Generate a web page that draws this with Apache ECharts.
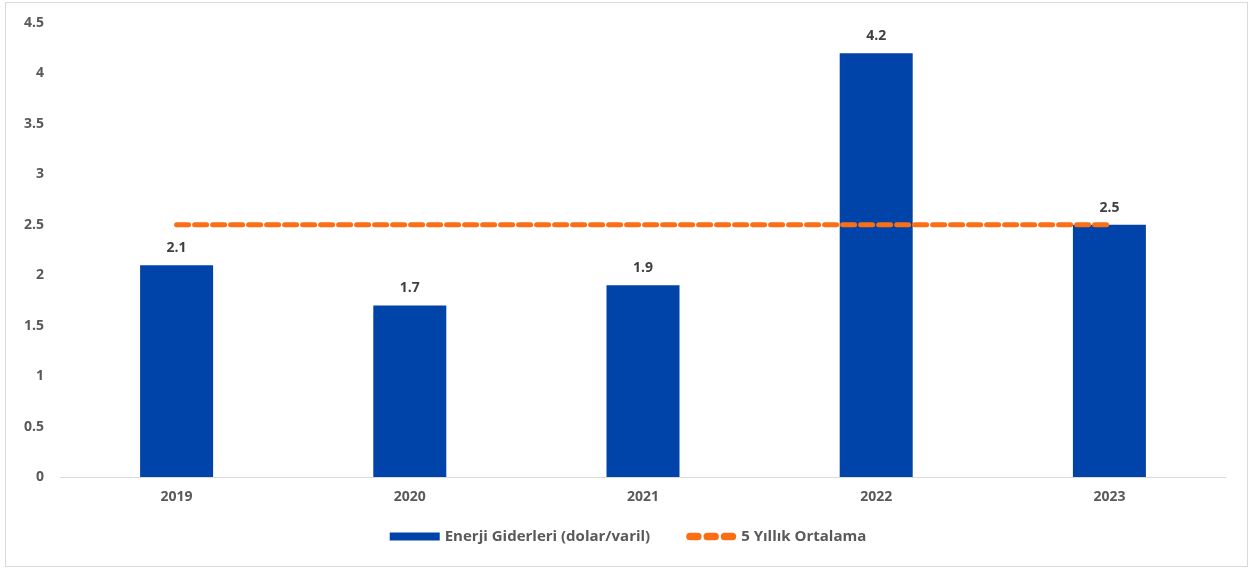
<!DOCTYPE html>
<html><head><meta charset="utf-8">
<script src="https://cdn.jsdelivr.net/npm/echarts@6/dist/echarts.min.js"></script>
<style>html,body{margin:0;padding:0;background:#fff}#c{width:1256px;height:570px}
#frame{position:absolute;left:5px;top:2px;width:1243px;height:565px;border:1px solid #d9d9d9;box-sizing:border-box;pointer-events:none}</style>
</head><body><div id="c"></div><div id="frame"></div>
<script>
const categories = ['2019','2020','2021','2022','2023'];
const energyCosts = [2.1, 1.7, 1.9, 4.2, 2.5];
const fiveYearAvg = [2.5, 2.5, 2.5, 2.5, 2.5];
const barName = 'Enerji Giderleri (dolar/varil)';
const lineName = '5 Yıllık Ortalama';
const font = "'Open Sans', 'Liberation Sans', sans-serif";
const chart = echarts.init(document.getElementById('c'));
chart.setOption({
  animation: false,
  grid: { left: 60, right: 30, top: 23, bottom: 93 },
  legend: {
    bottom: 21, left: 'center', itemGap: 36, itemWidth: 50, itemHeight: 8,
    textStyle: { color: '#595959', fontWeight: 'bold', fontSize: 15, fontFamily: font },
    data: [
      { name: barName, icon: 'rect' },
      { name: lineName, icon: 'path://M4,0 L12,0 A4,4 0 0 1 12,8 L4,8 A4,4 0 0 1 4,0 Z M22,0 L30,0 A4,4 0 0 1 30,8 L22,8 A4,4 0 0 1 22,0 Z M40,0 L48,0 A4,4 0 0 1 48,8 L40,8 A4,4 0 0 1 40,0 Z' }
    ]
  },
  xAxis: {
    type: 'category', data: categories, boundaryGap: true,
    axisLine: { lineStyle: { color: '#d9d9d9', width: 1 } },
    axisTick: { show: false },
    axisLabel: { color: '#595959', fontWeight: 'bold', fontSize: 14, fontFamily: font, margin: 13 }
  },
  yAxis: {
    type: 'value', min: 0, max: 4.5, interval: 0.5,
    splitLine: { show: false },
    axisLine: { show: false }, axisTick: { show: false },
    axisLabel: { color: '#595959', fontWeight: 'bold', fontSize: 14, fontFamily: font, margin: 16 }
  },
  series: [
    {
      name: barName, type: 'bar', data: energyCosts, barWidth: 73,
      itemStyle: { color: '#0044aa' },
      label: { show: true, position: 'top', distance: 10, color: '#404040', fontWeight: 'bold', fontSize: 14, fontFamily: font }
    },
    {
      name: lineName, type: 'line', data: fiveYearAvg, symbol: 'none',
      lineStyle: { color: '#fa6e14', width: 5, type: [12, 6], cap: 'round' },
      itemStyle: { color: '#fa6e14' }, z: 5
    }
  ]
});
</script></body></html>
